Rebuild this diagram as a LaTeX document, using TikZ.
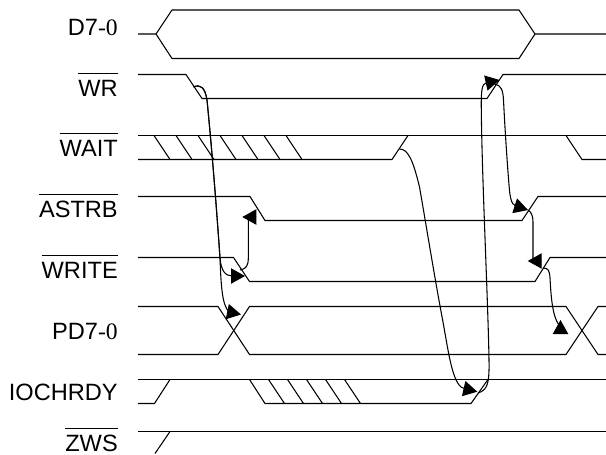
\documentclass[tikz,border=0pt]{standalone}
\usepackage{fontspec}
\setmainfont{Liberation Sans}
\newfontfamily\digitfont{Liberation Serif}
\usetikzlibrary{arrows.meta}
\newcommand{\barsig}[1]{\vbox{\hrule height 0.6pt \kern 16.6pt \hbox{\smash{#1}}}}
\tikzset{
  % labels
  siglabel/.style = {anchor=base east, inner sep=0pt, font=\fontsize{17.7}{20}\selectfont},
  % waveforms
  wave/.style  = {line width=0.8pt, line join=miter},
  hatch/.style = {line width=0.8pt},
  % arrows
  flow/.style     = {-{Triangle[length=10.5pt, width=11.5pt]}, line width=0.8pt},
}
\begin{document}
\begin{tikzpicture}[x=0.75pt, y=-0.75pt]
\useasboundingbox (0,0) rectangle (606,454);

% ---------- Labels ----------
\node[siglabel] (ld7)    at (118,35)  {D7{\digitfont -0}};
\node[siglabel] (lwr)    at (118,96)  {\barsig{WR}};
\node[siglabel] (lwait)  at (118,156) {\barsig{WAIT}};
\node[siglabel] (lastrb) at (118,217) {\barsig{ASTRB}};
\node[siglabel] (lwrite) at (118,278) {\barsig{WRITE}};
\node[siglabel] (lpd)    at (118,339) {PD7{\digitfont -0}};
\node[siglabel] (lioch)  at (118,400) {IOCHRDY};
\node[siglabel] (lzws)   at (118,451) {\barsig{ZWS}};

% ---------- Waveforms ----------
\draw[wave] (138,34) -- (156,34) -- (172,10) -- (519,10) -- (535,34) -- (606,34);
\draw[wave] (156,34) -- (172,58.5) -- (519,58.5) -- (535,34);
\draw[wave] (138,74.5) -- (186,74.5) -- (202,98.5) -- (487,98.5) -- (503,74.5) -- (606,74.5);
\draw[wave] (138,135.5) -- (606,135.5);
\draw[wave] (138,159.5) -- (392,159.5) -- (408,135.5);
\draw[wave] (566,135.5) -- (582,159.5) -- (606,159.5);
\draw[wave] (138,196.5) -- (250,196.5) -- (265,220.5) -- (522,220.5) -- (538,196.5) -- (606,196.5);
\draw[wave] (138,257.5) -- (233.5,257.5) -- (249.5,281.5) -- (535,281.5) -- (550,257.5) -- (606,257.5);
\draw[wave] (138,306.5) -- (218,306.5) -- (249.5,354.5) -- (566,354.5) -- (598,306.5) -- (606,306.5);
\draw[wave] (138,354.5) -- (218,354.5) -- (249.5,306.5) -- (566,306.5) -- (598,354.5) -- (606,354.5);
\draw[wave] (138,379.5) -- (606,379.5);
\draw[wave] (138,403.5) -- (154.5,403.5) -- (170,379.5);
\draw[wave] (249.5,379.5) -- (265,403.5) -- (471,403.5) -- (488,379.5);
\draw[wave] (138,431.5) -- (606,431.5);
\draw[wave] (155,453.5) -- (170,431.5);

% ---------- Hatching ----------
\foreach \x in {154,176,198,220,242,264,286} {
  \draw[hatch] (\x,135.5) -- ++(16,24);
}
\foreach \x in {268.5,287.5,306.5,325.5,344.5} {
  \draw[hatch] (\x,379.5) -- ++(16,24);
}

% ---------- Edge points ----------
\coordinate (wrfall)   at (193.5,87);
\coordinate (wrrise)   at (494.5,84);
\coordinate (waitrise) at (399.5,149);
\coordinate (astfall)  at (242.3,217);
\coordinate (astrise)  at (528,210);
\coordinate (wrtfall)  at (245,276);
\coordinate (wrtstart) at (240,270);
\coordinate (wrtrise)  at (527.7,261);
\coordinate (wrtstop)  at (543,268);
\coordinate (pdone)    at (241,314.5);
\coordinate (pdtwo)    at (560.5,320);
\coordinate (iocrise)  at (477.3,391.7);
\coordinate (iocstart) at (478,393);
\coordinate (wrtop)    at (499.5,80);

% ---------- Flow: causes -> effects ----------
\draw[flow] (wrfall) .. controls (200,84) and (205,87) .. (207,100)
  .. controls (211,140) and (216,200) .. (220,258)
  .. controls (221,270) and (225,276) .. (232,276) -- (wrtfall);
\draw[flow] (wrfall) .. controls (200,84) and (205,87) .. (207,100)
  .. controls (211,140) and (216,200) .. (220,258)
  .. controls (221,285) and (222,305) .. (229,312) -- (pdone);
\draw[flow] (wrtstart) .. controls (246,269) and (248.3,266) .. (248.3,258)
  -- (248.3,217) -- (astfall);
\draw[flow] (waitrise) .. controls (408,149) and (413,160) .. (419.5,187)
  .. controls (427,230) and (435,280) .. (443,322)
  .. controls (449,355) and (453,388) .. (465.5,389) -- (iocrise);
\draw[flow] (iocstart) .. controls (487,390) and (489.5,385) .. (489,360)
  .. controls (488,300) and (482,180) .. (481.3,110)
  .. controls (481,90) and (482,84) .. (486,83) -- (wrtop);
\draw[flow] (wrrise) .. controls (501,85) and (503,90) .. (503.5,100)
  .. controls (505,130) and (507,160) .. (509,185)
  .. controls (510,197) and (511,204) .. (515.5,206) -- (astrise);
\draw[flow] (astrise) .. controls (531,212) and (533,215) .. (533,222)
  -- (533,261) -- (wrtrise);
\draw[flow] (wrtstop) .. controls (548,268) and (549.5,270) .. (550,278)
  .. controls (551,295) and (552,318) .. (560.5,327) -- (pdtwo);

\end{tikzpicture}
\end{document}
